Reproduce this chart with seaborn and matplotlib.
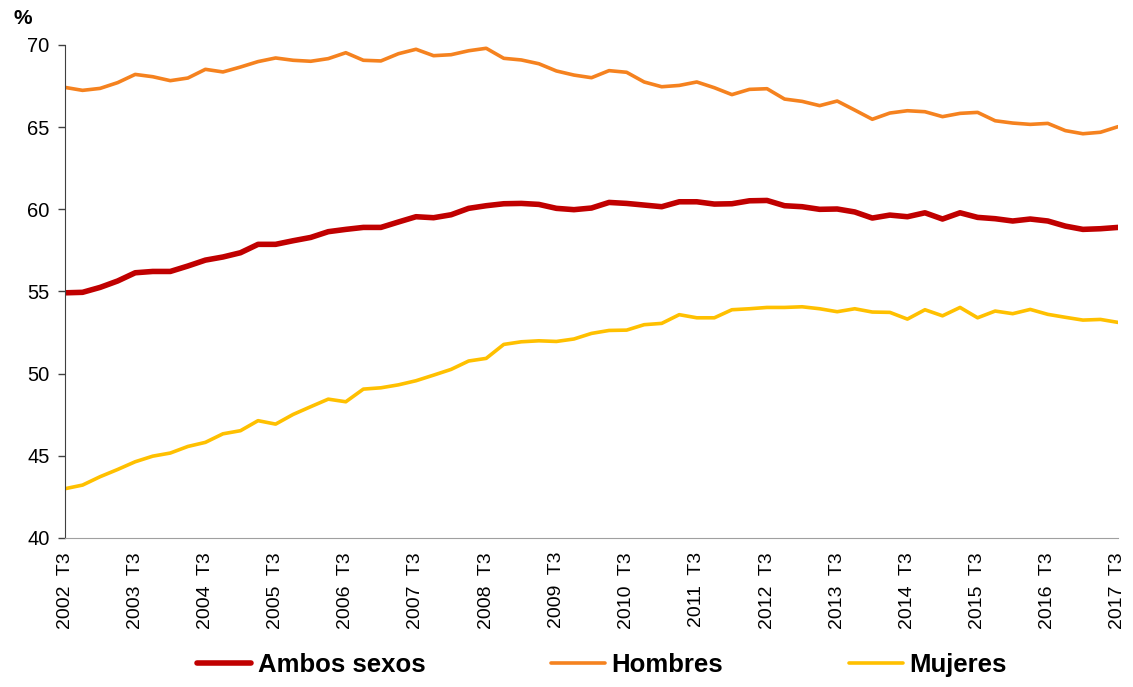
import numpy as np
import matplotlib
matplotlib.use("Agg")
import matplotlib.pyplot as plt
import seaborn as sns
import pandas as pd

# Tasa de actividad trimestral, 2002 T3 - 2017 T3
years = [2002, 2003, 2004, 2005, 2006, 2007, 2008, 2009, 2010,
         2011, 2012, 2013, 2014, 2015, 2016, 2017]
tick_labels = [str(y) + "  T3" for y in years]

ambos = [54.92, 54.95, 55.25, 55.64, 56.14, 56.22, 56.22, 56.55, 56.91, 57.10,
         57.36, 57.87, 57.87, 58.09, 58.29, 58.64, 58.78, 58.90, 58.90, 59.23,
         59.55, 59.49, 59.67, 60.06, 60.22, 60.34, 60.36, 60.30, 60.06, 59.98,
         60.08, 60.42, 60.36, 60.26, 60.16, 60.46, 60.46, 60.32, 60.34, 60.52,
         60.54, 60.22, 60.16, 60.00, 60.02, 59.84, 59.47, 59.65, 59.55, 59.79,
         59.41, 59.79, 59.51, 59.43, 59.29, 59.41, 59.29, 58.98, 58.78, 58.82,
         58.90]

hombres = [67.42, 67.24, 67.36, 67.71, 68.21, 68.07, 67.83, 67.99, 68.52, 68.36,
           68.66, 68.99, 69.21, 69.07, 69.01, 69.17, 69.53, 69.07, 69.03, 69.47,
           69.74, 69.35, 69.41, 69.65, 69.80, 69.19, 69.09, 68.86, 68.42, 68.17,
           68.01, 68.44, 68.34, 67.75, 67.46, 67.54, 67.75, 67.40, 66.98, 67.30,
           67.34, 66.71, 66.57, 66.31, 66.59, 66.04, 65.48, 65.86, 66.00, 65.94,
           65.64, 65.84, 65.90, 65.39, 65.25, 65.17, 65.23, 64.79, 64.60, 64.69,
           65.03]

mujeres = [43.00, 43.22, 43.73, 44.17, 44.64, 44.98, 45.17, 45.57, 45.82, 46.34,
           46.53, 47.14, 46.93, 47.52, 47.99, 48.45, 48.29, 49.06, 49.14, 49.32,
           49.57, 49.91, 50.26, 50.77, 50.93, 51.78, 51.94, 52.00, 51.96, 52.11,
           52.45, 52.63, 52.65, 52.98, 53.06, 53.59, 53.40, 53.40, 53.89, 53.95,
           54.03, 54.03, 54.07, 53.95, 53.77, 53.95, 53.75, 53.73, 53.32, 53.89,
           53.52, 54.03, 53.40, 53.81, 53.65, 53.91, 53.61, 53.43, 53.26, 53.30,
           53.12]

sns.set_style("white")
plt.rcParams['font.family'] = ['Liberation Sans', 'DejaVu Sans']
plt.rcParams['text.color'] = "black"
plt.rcParams['xtick.color'] = "black"
plt.rcParams['ytick.color'] = "black"

fig = plt.figure(figsize=(11.33, 6.87), dpi=100)
ax = fig.add_axes([65 / 1133, 1 - 538 / 687, (1118 - 65) / 1133, (538 - 45) / 687])

x = list(range(len(ambos)))
series = [("Ambos sexos", ambos, "#C00000", 4.0),
          ("Hombres", hombres, "#F5821F", 2.6),
          ("Mujeres", mujeres, "#FFC000", 2.6)]
for name, vals, col, lw in series:
    sns.lineplot(x=x, y=vals, color=col, linewidth=lw, label=name, ax=ax)

ax.set_xlim(0, 60)
ax.set_ylim(40, 70)
ax.set_yticks([40, 45, 50, 55, 60, 65, 70])
ax.set_xticks(list(range(0, 61, 4)))
ax.set_xticklabels(tick_labels, rotation=90, fontsize=14)
ax.tick_params(axis='y', labelsize=14.5, length=5, width=1, color="#404040",
               left=True, pad=6)
ax.tick_params(axis='x', length=0, pad=10)
for s in ["top", "right"]:
    ax.spines[s].set_visible(False)
ax.spines["left"].set_color("#404040")
ax.spines["bottom"].set_color("#A0A0A0")
ax.set_xlabel("")
ax.set_ylabel("")

fig.text(13 / 1133, 1 - 18 / 687, "%", fontsize=15, fontweight="bold",
         ha="left", va="center")

handles, labels = ax.get_legend_handles_labels()
ax.get_legend().remove()
fig.legend(handles, labels, loc="center", ncol=3,
           bbox_to_anchor=(602 / 1133, 1 - 665 / 687),
           frameon=False, prop={"size": 18.5, "weight": "bold"},
           handlelength=2.1, handletextpad=0.25, columnspacing=4.9)

fig.savefig("out.png", dpi=100)
